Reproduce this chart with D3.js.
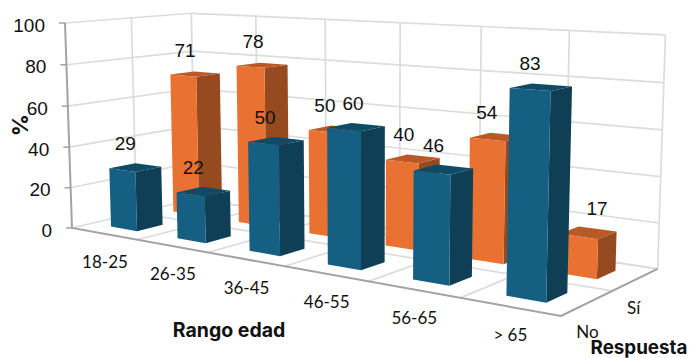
<!DOCTYPE html>
<html>
<head>
<meta charset="utf-8">
<script src="https://cdn.jsdelivr.net/npm/d3@7/dist/d3.min.js"></script>
<style>
  html, body { margin: 0; padding: 0; background: #fff; }
  svg { display: block; }
</style>
</head>
<body>
<svg id="chart" width="692" height="358"></svg>
<script>
// Survey answers by age range, in percent
const categories = ["18-25", "26-35", "36-45", "46-55", "56-65", "> 65"];
const answers = ["No", "Sí"];
const valuesNo = [29, 22, 50, 60, 46, 83];
const valuesSi = [71, 78, 50, 40, 54, 17];
const yTicks = [0, 20, 40, 60, 80, 100];

// Box corners on screen and their homogeneous weights (perspective projection)
const O = [72, 228], CX = [561, 316], CY = [65, 23], CZ = [195, 199];
const wx = 0.77, wy = 0.977, wz = 1.105;
function project(x, y, z) {
  const k = 1 - x - y - z;
  const den = k + x * wx + y * wy + z * wz;
  return [0, 1].map(i =>
    (k * O[i] + x * wx * CX[i] + y * wy * CY[i] + z * wz * CZ[i]) / den);
}

const xBand = d3.scaleBand().domain(categories).range([0, 1]).paddingInner(0.6).paddingOuter(0.3);
const zBand = d3.scaleBand().domain(answers).range([0, 1]).paddingInner(0.6).paddingOuter(0.3);
const yScale = d3.scaleLinear().domain([0, 100]).range([0, 1]);

const svg = d3.select("#chart");
const sans = "'Liberation Sans', Arial, sans-serif";
const labelFont = "Lato, 'Open Sans', sans-serif";
const line = d3.line();

// Light grid on the floor and the two walls
const grid = svg.append("g").attr("fill", "none").attr("stroke", "#dcdcdc").attr("stroke-width", 1.7);
const xEdges = d3.range(categories.length + 1).map(i => i / categories.length);
const zEdges = [0, 0.5, 1];
yTicks.forEach(t => {
  const y = yScale(t);
  grid.append("path").attr("d", line([project(0, y, 0), project(0, y, 1), project(1, y, 1)]));
});
xEdges.slice(1).forEach(x => {
  grid.append("path").attr("d", line([project(x, 0, 0), project(x, 0, 1), project(x, 1, 1)]));
});
zEdges.slice(1).forEach(z => {
  grid.append("path").attr("d", line([project(1, 0, z), project(0, 0, z), project(0, 1, z)]));
});

// Axis lines
const axes = svg.append("g").attr("fill", "none").attr("stroke", "#a3a3a3").attr("stroke-width", 2);
axes.append("path").attr("d", line([project(0, 1, 0), project(0, 0, 0), project(1, 0, 0), project(1, 0, 1)]));
yTicks.forEach(t => {
  const p = project(0, yScale(t), 0);
  axes.append("path").attr("d", line([[p[0] - 6, p[1]], p])).attr("stroke-width", 1.5);
});

// One box per value, rear row first
const palette = {
  "No": { front: "#156082", side: "#0e3f55", top: "#0f4b67" },
  "Sí": { front: "#e97132", side: "#964a20", top: "#b95a26" }
};
// Sideways shift of the value labels that would otherwise collide
const labelShift = {
  "No": [0, 0, -1, 7, 0, -1],
  "Sí": [0, 1, 0, 1, -1, 19]
};
const rows = [
  { answer: "Sí", values: valuesSi },
  { answer: "No", values: valuesNo }
];
const polygon = pts => line(pts) + "Z";
const labelQueue = [];

rows.forEach(row => {
  const g = svg.append("g");
  const z0 = zBand(row.answer), z1 = z0 + zBand.bandwidth();
  row.values.forEach((v, i) => {
    const x0 = xBand(categories[i]), x1 = x0 + xBand.bandwidth();
    const y = yScale(v);
    const c = palette[row.answer];
    g.append("path").attr("fill", c.side)
      .attr("d", polygon([project(x1, 0, z0), project(x1, 0, z1), project(x1, y, z1), project(x1, y, z0)]));
    g.append("path").attr("fill", c.top)
      .attr("d", polygon([project(x0, y, z0), project(x1, y, z0), project(x1, y, z1), project(x0, y, z1)]));
    g.append("path").attr("fill", c.front)
      .attr("d", polygon([project(x0, 0, z0), project(x1, 0, z0), project(x1, y, z0), project(x0, y, z0)]));
    const top = project((x0 + x1) / 2, y, (z0 + z1) / 2);
    labelQueue.push({ text: v, at: [top[0] - 10 + labelShift[row.answer][i], top[1] - 24] });
  });
});

// Value labels
svg.append("g").selectAll("text").data(labelQueue).join("text")
  .attr("x", d => d.at[0]).attr("y", d => d.at[1])
  .attr("text-anchor", "middle").attr("dominant-baseline", "central")
  .attr("font-family", sans).attr("font-size", 19).attr("fill", "#111")
  .text(d => d.text);

// Vertical axis labels
svg.append("g").selectAll("text").data(yTicks).join("text")
  .attr("x", t => project(0, yScale(t), 0)[0] - 20)
  .attr("y", t => project(0, yScale(t), 0)[1] + 2)
  .attr("text-anchor", "end").attr("dominant-baseline", "central")
  .attr("font-family", sans).attr("font-size", 19).attr("fill", "#111")
  .text(t => t);

// Category labels under the front edge
svg.append("g").selectAll("text").data(categories).join("text")
  .attr("x", c => project(xBand(c) + xBand.bandwidth() / 2, 0, 0)[0] + 1)
  .attr("y", c => project(xBand(c) + xBand.bandwidth() / 2, 0, 0)[1] + 28)
  .attr("text-anchor", "middle").attr("dominant-baseline", "central")
  .attr("font-family", labelFont).attr("font-size", 17).attr("fill", "#111")
  .text(c => c);

// Answer labels along the right edge
svg.append("g").selectAll("text").data(answers).join("text")
  .attr("x", a => project(1, 0, zBand(a) + zBand.bandwidth() / 2)[0] + (a === "No" ? 0 : -2))
  .attr("y", a => project(1, 0, zBand(a) + zBand.bandwidth() / 2)[1] + (a === "No" ? 28 : 28))
  .attr("text-anchor", "middle").attr("dominant-baseline", "central")
  .attr("font-family", labelFont).attr("font-size", 17).attr("fill", "#111")
  .text(a => a);

// Axis titles
const title = (text, x, y, size, rotate) => svg.append("text")
  .attr("transform", `translate(${x},${y}) rotate(${rotate})`)
  .attr("text-anchor", "middle").attr("dominant-baseline", "central")
  .attr("font-family", "Inter, Roboto, sans-serif").attr("font-weight", 700)
  .attr("font-size", size).attr("fill", "#111").text(text);
title("Rango edad", 229, 330, 19.5, 0);
title("Respuesta", 639, 347.5, 18.8, 0);
title("%", 20, 125, 22, -90);
</script>
</body>
</html>
